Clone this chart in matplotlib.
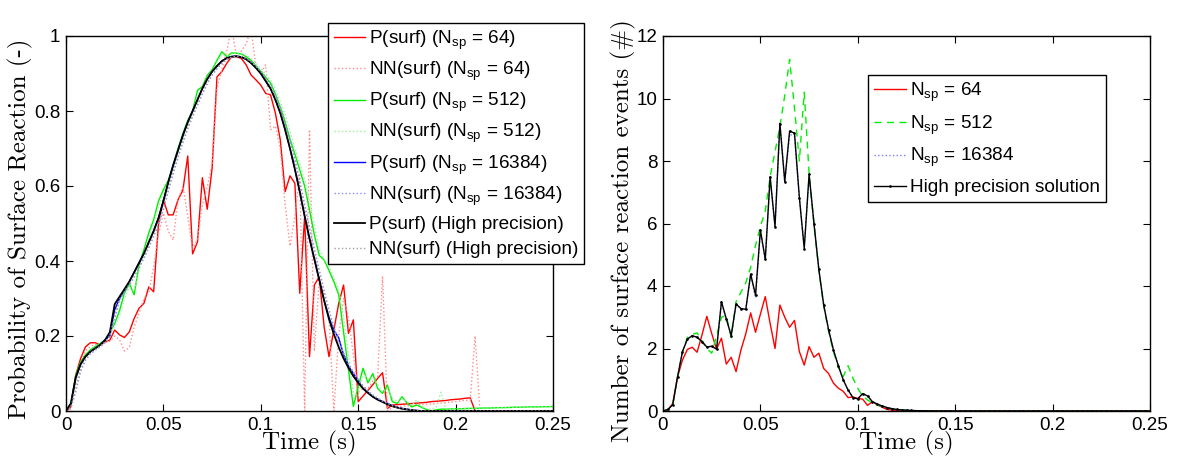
import numpy as np
import matplotlib
matplotlib.use("Agg")
import matplotlib.pyplot as plt
from matplotlib import font_manager

# ---------------- data ----------------
time = np.linspace(0.0, 0.25, 101)

def pad(vals, n=101):
    return np.array(list(vals) + [0.0] * (n - len(vals)))

# Left panel: probability of surface reaction
p_64 = pad([0, 0.011, 0.096, 0.14, 0.171, 0.182, 0.182, 0.176, 0.185, 0.189,
            0.216, 0.203, 0.196, 0.211, 0.247, 0.274, 0.287, 0.331, 0.318, 0.5,
            0.563, 0.523, 0.523, 0.563, 0.589, 0.68, 0.419, 0.451, 0.622, 0.538,
            0.647, 0.891, 0.905, 0.927, 0.945, 0.945, 0.94, 0.923, 0.896, 0.883,
            0.869, 0.847, 0.843, 0.794, 0.723, 0.585, 0.627, 0.607, 0.314, 0.518,
            0.145, 0.336, 0.358, 0.225, 0.145, 0.216, 0.287, 0.336, 0.207, 0.243,
            0.025, 0.04, 0.055, 0.07, 0.087, 0.102, 0.007, 0.016, 0.017, 0.018,
            0.019, 0.02, 0.021, 0.022, 0.023, 0.025, 0.026, 0.027, 0.028, 0.03,
            0.031, 0.032, 0.034, 0.035, 0.0])
nn_64 = pad([0, 0.005, 0.08, 0.13, 0.16, 0.172, 0.178, 0.175, 0.182, 0.186,
             0.2, 0.19, 0.16, 0.17, 0.225, 0.26, 0.3, 0.315, 0.385, 0.474,
             0.527, 0.48, 0.456, 0.563, 0.6, 0.52, 0.43, 0.46, 0.55, 0.598,
             0.66, 0.86, 0.91, 0.96, 1.02, 0.95, 0.96, 0.98, 1.02, 0.918,
             0.9, 0.923, 0.75, 0.76, 0.7, 0.55, 0.44, 0.52, 0.63, 0.0,
             0.75, 0.16, 0.35, 0.3, 0.25, 0.0, 0.2, 0.3, 0.25, 0.15,
             0.05, 0.06, 0.06, 0.08, 0.09, 0.36, 0.0, 0.01, 0.012, 0.013,
             0.014, 0.015, 0.016, 0.017, 0.018, 0.019, 0.02, 0.021, 0.022, 0.024,
             0.025, 0.027, 0.028, 0.03, 0.2, 0.0])
p_512 = pad([0, 0.02, 0.095, 0.13, 0.15, 0.163, 0.172, 0.18, 0.19, 0.21,
             0.233, 0.268, 0.315, 0.34, 0.31, 0.39, 0.43, 0.475, 0.51, 0.56,
             0.59, 0.615, 0.655, 0.7, 0.74, 0.775, 0.8, 0.855, 0.865, 0.895,
             0.91, 0.935, 0.958, 0.945, 0.955, 0.954, 0.952, 0.945, 0.935, 0.92,
             0.905, 0.89, 0.875, 0.845, 0.81, 0.77, 0.725, 0.685, 0.643, 0.6,
             0.536, 0.47, 0.415, 0.403, 0.375, 0.345, 0.31, 0.21, 0.11, 0.012,
             0.065, 0.114, 0.075, 0.1, 0.06, 0.047, 0.069, 0.025, 0.02, 0.038,
             0.022, 0.011, 0.016, 0.01, 0.004, 0.0, 0.003, 0.005, 0.005, 0.0055,
             0.006, 0.006, 0.0065, 0.007, 0.007, 0.0075, 0.008, 0.008, 0.0085, 0.009,
             0.009, 0.0095, 0.01, 0.01, 0.0105, 0.011, 0.011, 0.011, 0.0115, 0.0115,
             0.012])
nn_512 = pad([0, 0.012, 0.08, 0.12, 0.145, 0.16, 0.17, 0.178, 0.188, 0.205,
              0.225, 0.255, 0.3, 0.33, 0.32, 0.375, 0.42, 0.46, 0.5, 0.545,
              0.58, 0.61, 0.645, 0.69, 0.73, 0.765, 0.795, 0.84, 0.86, 0.89,
              0.905, 0.93, 0.95, 0.946, 0.952, 0.955, 0.953, 0.948, 0.94, 0.928,
              0.912, 0.898, 0.882, 0.858, 0.825, 0.79, 0.745, 0.7, 0.66, 0.615,
              0.56, 0.495, 0.43, 0.405, 0.385, 0.355, 0.325, 0.25, 0.15, 0.05,
              0.04, 0.1, 0.085, 0.09, 0.07, 0.05, 0.06, 0.035, 0.025, 0.033,
              0.025, 0.015, 0.03, 0.012, 0.006, 0.004, 0.01, 0.05, 0.006, 0.006,
              0.006, 0.006, 0.0065, 0.007, 0.007, 0.0075, 0.008, 0.008, 0.0085, 0.009,
              0.009, 0.0095, 0.01, 0.01, 0.0105, 0.011, 0.011, 0.011, 0.0115, 0.0115,
              0.012])
p_16384 = pad([0, 0.02, 0.088, 0.124, 0.145, 0.158, 0.167, 0.176, 0.19, 0.2,
               0.27, 0.3, 0.322, 0.345, 0.37, 0.395, 0.42, 0.45, 0.48, 0.515,
               0.56, 0.61, 0.655, 0.695, 0.735, 0.77, 0.8, 0.83, 0.86, 0.885,
               0.905, 0.92, 0.933, 0.941, 0.945, 0.946, 0.944, 0.938, 0.928, 0.915,
               0.9, 0.88, 0.86, 0.83, 0.795, 0.75, 0.7, 0.645, 0.585, 0.52,
               0.46, 0.405, 0.35, 0.295, 0.25, 0.215, 0.195, 0.15, 0.12, 0.1,
               0.08, 0.06, 0.05, 0.038, 0.032, 0.025, 0.02, 0.014, 0.01, 0.007,
               0.005, 0.003, 0.001])
nn_16384 = pad([0, 0.008, 0.05, 0.105, 0.135, 0.152, 0.162, 0.171, 0.182, 0.198,
                0.245, 0.295, 0.315, 0.335, 0.357, 0.382, 0.407, 0.435, 0.465, 0.497,
                0.537, 0.585, 0.632, 0.675, 0.715, 0.752, 0.785, 0.815, 0.845, 0.872,
                0.895, 0.912, 0.926, 0.937, 0.943, 0.946, 0.945, 0.941, 0.933, 0.921,
                0.907, 0.89, 0.87, 0.845, 0.812, 0.772, 0.725, 0.672, 0.615, 0.552,
                0.49, 0.432, 0.377, 0.322, 0.27, 0.225, 0.187, 0.155, 0.127, 0.104,
                0.084, 0.067, 0.054, 0.043, 0.034, 0.027, 0.021, 0.015, 0.011, 0.007,
                0.005, 0.003, 0.0015, 0.0005])
p_hp = pad([0, 0.02, 0.09, 0.125, 0.145, 0.158, 0.167, 0.176, 0.188, 0.21,
            0.285, 0.305, 0.325, 0.345, 0.37, 0.395, 0.42, 0.45, 0.48, 0.515,
            0.56, 0.61, 0.655, 0.695, 0.735, 0.77, 0.8, 0.83, 0.86, 0.885,
            0.905, 0.92, 0.933, 0.941, 0.945, 0.946, 0.944, 0.938, 0.928, 0.915,
            0.9, 0.88, 0.86, 0.83, 0.795, 0.75, 0.7, 0.645, 0.585, 0.52,
            0.46, 0.405, 0.35, 0.295, 0.245, 0.205, 0.17, 0.14, 0.115, 0.093,
            0.075, 0.06, 0.048, 0.038, 0.03, 0.024, 0.018, 0.013, 0.009, 0.006,
            0.004, 0.002, 0.001])
nn_hp = pad([0, 0.01, 0.06, 0.11, 0.138, 0.154, 0.164, 0.173, 0.184, 0.2,
             0.255, 0.298, 0.318, 0.338, 0.36, 0.385, 0.41, 0.438, 0.468, 0.5,
             0.542, 0.59, 0.637, 0.68, 0.72, 0.756, 0.788, 0.818, 0.848, 0.875,
             0.897, 0.914, 0.928, 0.938, 0.944, 0.946, 0.945, 0.94, 0.931, 0.919,
             0.905, 0.887, 0.867, 0.84, 0.806, 0.765, 0.717, 0.663, 0.605, 0.543,
             0.482, 0.425, 0.37, 0.315, 0.265, 0.22, 0.183, 0.152, 0.125, 0.102,
             0.082, 0.066, 0.053, 0.042, 0.033, 0.026, 0.02, 0.014, 0.01, 0.007,
             0.005, 0.003, 0.0015, 0.0005])

# Right panel: number of surface reaction events
ev_64 = pad([0, 0.03, 0.24, 1.1, 1.63, 1.97, 2.04, 1.88, 2.43, 3.03,
             2.48, 1.98, 2.33, 1.5, 1.72, 1.26, 1.95, 2.47, 3.14, 2.52,
             3.1, 3.66, 2.8, 2.0, 3.39, 3.0, 2.68, 2.9, 1.9, 1.47,
             2.06, 1.72, 1.85, 1.36, 1.2, 0.89, 0.73, 0.63, 0.43, 0.45,
             0.4, 0.38, 0.18, 0.3, 0.2, 0.12, 0.05, 0.03, 0.02, 0.01,
             0.005])
ev_512 = pad([0, 0.05, 0.2, 1.1, 1.9, 2.35, 2.45, 2.5, 2.25, 2.0,
              1.85, 2.4, 3.0, 3.05, 2.35, 3.5, 3.8, 4.1, 4.6, 5.3,
              5.9, 6.4, 7.5, 8.3, 9.1, 10.1, 11.25, 9.7, 8.0, 10.2,
              7.6, 6.0, 4.5, 3.35, 2.55, 1.9, 1.4, 1.1, 1.45, 1.05,
              0.72, 0.48, 0.35, 0.26, 0.19, 0.14, 0.1, 0.07, 0.05, 0.035,
              0.024, 0.016, 0.01, 0.006, 0.004, 0.002, 0.001])
ev_16384 = pad([0, 0.05, 0.2, 1.1, 1.9, 2.3, 2.41, 2.36, 2.22, 2.05,
                2.07, 1.98, 3.45, 2.95, 2.43, 3.4, 3.28, 3.25, 4.35, 3.62,
                5.75, 4.85, 7.45, 5.9, 9.25, 7.34, 8.85, 8.8, 6.83, 5.25,
                7.5, 6.0, 4.53, 3.39, 2.6, 1.95, 1.45, 1.0, 0.67, 0.43,
                0.39, 0.56, 0.48, 0.3, 0.22, 0.16, 0.11, 0.075, 0.05, 0.035,
                0.025, 0.017, 0.011, 0.007, 0.004, 0.002, 0.001])
ev_hp = pad([0, 0.05, 0.2, 1.1, 1.9, 2.3, 2.41, 2.36, 2.22, 2.05,
             2.07, 1.98, 3.5, 2.95, 2.41, 3.42, 3.28, 3.25, 4.38, 3.71,
             5.79, 4.85, 7.5, 5.9, 9.2, 7.34, 8.96, 8.89, 6.83, 5.2,
             7.58, 6.0, 4.53, 3.39, 2.6, 1.95, 1.45, 1.0, 0.67, 0.43,
             0.39, 0.56, 0.48, 0.3, 0.22, 0.16, 0.11, 0.075, 0.05, 0.035,
             0.025, 0.017, 0.011, 0.007, 0.004, 0.002, 0.001])

x_ticks = [0, 0.05, 0.1, 0.15, 0.2, 0.25]
x_tick_labels = ['0', '0.05', '0.1', '0.15', '0.2', '0.25']
y1_ticks = [0, 0.2, 0.4, 0.6, 0.8, 1.0]
y1_tick_labels = ['0', '0.2', '0.4', '0.6', '0.8', '1']
y2_ticks = [0, 2, 4, 6, 8, 10, 12]
y2_tick_labels = ['0', '2', '4', '6', '8', '10', '12']

legend_left = ['P(surf) (N$_{\\rm sp}$ = 64)', 'NN(surf) (N$_{\\rm sp}$ = 64)',
               'P(surf) (N$_{\\rm sp}$ = 512)', 'NN(surf) (N$_{\\rm sp}$ = 512)',
               'P(surf) (N$_{\\rm sp}$ = 16384)', 'NN(surf) (N$_{\\rm sp}$ = 16384)',
               'P(surf) (High precision)', 'NN(surf) (High precision)']
legend_right = ['N$_{\\rm sp}$ = 64', 'N$_{\\rm sp}$ = 512', 'N$_{\\rm sp}$ = 16384',
                'High precision solution']

# ---------------- style ----------------
names = {f.name for f in font_manager.fontManager.ttflist}
sans = 'Liberation Sans' if 'Liberation Sans' in names else 'DejaVu Sans'
serif = 'cmr10' if 'cmr10' in names else 'DejaVu Serif'

plt.rcParams['font.family'] = [sans, 'DejaVu Sans']
plt.rcParams['mathtext.fontset'] = 'custom'
plt.rcParams['mathtext.rm'] = sans
plt.rcParams['mathtext.it'] = sans + ':italic'
plt.rcParams['mathtext.bf'] = sans + ':bold'
plt.rcParams['axes.linewidth'] = 1.0

W, H = 1180, 466
fig = plt.figure(figsize=(W / 100, H / 100), dpi=100)
ax1 = fig.add_axes([66 / W, 1 - 411 / H, 487 / W, 375 / H])
ax2 = fig.add_axes([663 / W, 1 - 411 / H, 487 / W, 375 / H])

lw = 1.0
ax1.plot(time, p_64, color='#ff0000', lw=lw, label=legend_left[0])
ax1.plot(time, nn_64, color='#ff8c8c', lw=lw, ls=':', label=legend_left[1])
ax1.plot(time, p_512, color='#00ee00', lw=lw, label=legend_left[2])
ax1.plot(time, nn_512, color='#9cf29c', lw=lw, ls=':', label=legend_left[3])
ax1.plot(time, p_16384, color='#0000ff', lw=lw, label=legend_left[4])
ax1.plot(time, nn_16384, color='#8c8cff', lw=lw, ls=':', label=legend_left[5])
ax1.plot(time, p_hp, color='#000000', lw=1.3, label=legend_left[6])
ax1.plot(time, nn_hp, color='#a0a0a0', lw=lw, ls=':', label=legend_left[7])

ax2.plot(time, ev_64, color='#ff0000', lw=lw, label=legend_right[0])
ax2.plot(time, ev_512, color='#00ee00', lw=lw, ls=(0, (5, 4)), label=legend_right[1])
ax2.plot(time, ev_16384, color='#7c7cff', lw=lw, ls=':', label=legend_right[2])
ax2.plot(time, ev_hp, color='#000000', lw=lw, marker='.', ms=1.8, label=legend_right[3])

for ax, yt, ytl, ylim in ((ax1, y1_ticks, y1_tick_labels, (0, 1)),
                          (ax2, y2_ticks, y2_tick_labels, (0, 12))):
    ax.set_xlim(0, 0.25)
    ax.set_ylim(*ylim)
    ax.set_xticks(x_ticks)
    ax.set_xticklabels(x_tick_labels)
    ax.set_yticks(yt)
    ax.set_yticklabels(ytl)
    ax.tick_params(direction='in', top=True, right=True, length=5, width=0.8,
                   labelsize=13.5, pad=4)
    ax.set_xlabel('Time (s)', fontfamily=serif, fontsize=18)
    ax.xaxis.set_label_coords(0.5, -0.054)

ax1.set_ylabel('Probability of Surface Reaction (-)', fontfamily=serif, fontsize=18)
ax1.yaxis.set_label_coords(-0.068, 0.485)
ax2.set_ylabel('Number of surface reaction events (#)', fontfamily=serif, fontsize=18)
ax2.yaxis.set_label_coords(-0.056, 0.48)

leg1 = ax1.legend(loc='upper left', bbox_to_anchor=(328 / W, 1 - 23 / H),
                  bbox_transform=fig.transFigure, borderaxespad=0, fontsize=13.7,
                  handlelength=1.65, handletextpad=0.2, labelspacing=0.42,
                  borderpad=0.3, fancybox=False, edgecolor='k', framealpha=1)
leg1.get_frame().set_linewidth(1.0)
leg2 = ax2.legend(loc='upper left', bbox_to_anchor=(868 / W, 1 - 75 / H),
                  bbox_transform=fig.transFigure, borderaxespad=0, fontsize=13.7,
                  handlelength=1.7, handletextpad=0.2, labelspacing=0.5,
                  borderpad=0.3, numpoints=1, markerscale=1.0,
                  fancybox=False, edgecolor='k', framealpha=1)
leg2.get_frame().set_linewidth(1.0)

fig.savefig('out.png', dpi=100)
